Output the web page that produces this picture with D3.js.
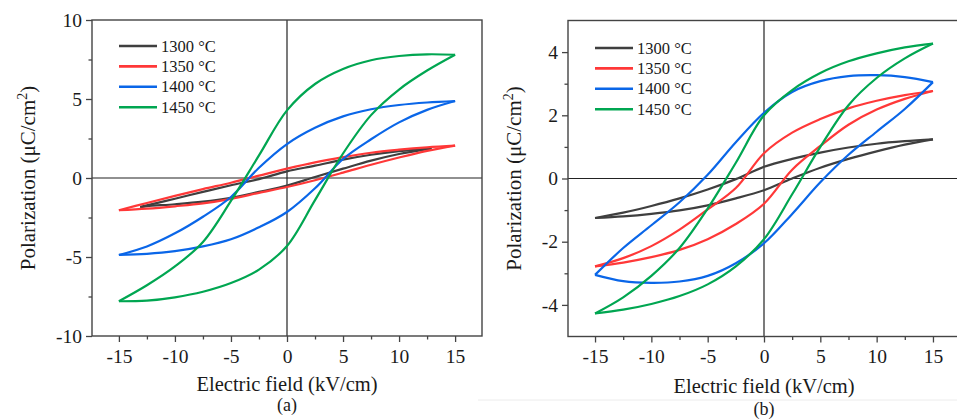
<!DOCTYPE html>
<html>
<head>
<meta charset="utf-8">
<script src="https://cdn.jsdelivr.net/npm/d3@7"></script>
<style>
  body { margin: 0; background: #fff; }
  svg text { font-family: "Liberation Serif", "DejaVu Serif", "Times New Roman", serif !important; fill: #1a1a1a; }
</style>
</head>
<body>
<script>
// sintering temperatures (legend)
var temps = ["1300 °C", "1350 °C", "1400 °C", "1450 °C"];
var colors = ["#3f3f3f", "#ff3838", "#0a66e8", "#00a651"];

// electric field grid (kV/cm)
var field = [-15, -12.5, -10, -7.5, -5, -2.5, 0, 2.5, 5, 7.5, 10, 12.5, 15];
var field1300a = [-13.1, -12.5, -10, -7.5, -5, -2.5, 0, 2.5, 5, 7.5, 10, 12.9];

// panel (a) polarization, upper (descending) and lower (ascending) branches
var upA1300  = [-1.84, -1.73, -1.31, -0.88, -0.46, -0.07, 0.42, 0.78, 1.16, 1.47, 1.70, 1.88];
var lowA1300 = [-1.84, -1.78, -1.66, -1.50, -1.25, -0.88, -0.48, 0.06, 0.59, 1.10, 1.52, 1.88];
var upA1350  = [-2.04, -1.58, -1.13, -0.70, -0.30, 0.15, 0.59, 0.99, 1.32, 1.60, 1.79, 1.94, 2.05];
var lowA1350 = [-2.04, -1.94, -1.79, -1.61, -1.32, -0.94, -0.57, -0.14, 0.34, 0.84, 1.30, 1.72, 2.05];
var upA1400  = [-4.87, -4.33, -3.50, -2.45, -1.20, 0.65, 2.15, 3.18, 3.90, 4.35, 4.62, 4.78, 4.87];
var lowA1400 = [-4.87, -4.80, -4.63, -4.33, -3.88, -3.12, -2.15, -0.65, 1.20, 2.45, 3.52, 4.31, 4.87];
var upA1450  = [-7.80, -6.79, -5.60, -4.05, -1.45, 1.43, 4.28, 5.95, 6.90, 7.45, 7.72, 7.83, 7.80];
var lowA1450 = [-7.80, -7.76, -7.55, -7.20, -6.65, -5.80, -4.30, -1.40, 1.55, 3.98, 5.60, 6.80, 7.80];

// panel (b)
var upB1300  = [-1.25, -1.08, -0.87, -0.63, -0.35, -0.02, 0.37, 0.62, 0.82, 0.98, 1.10, 1.18, 1.24];
var lowB1300 = [-1.25, -1.20, -1.12, -1.01, -0.85, -0.63, -0.37, 0.00, 0.34, 0.62, 0.86, 1.07, 1.24];
var upB1350  = [-2.78, -2.52, -2.14, -1.62, -0.98, -0.30, 0.80, 1.45, 1.88, 2.22, 2.46, 2.64, 2.77];
var lowB1350 = [-2.78, -2.66, -2.49, -2.26, -1.92, -1.44, -0.80, 0.28, 1.03, 1.70, 2.18, 2.52, 2.77];
var upB1400  = [-3.05, -2.20, -1.48, -0.75, 0.12, 1.15, 2.08, 2.74, 3.08, 3.24, 3.27, 3.21, 3.05];
var lowB1400 = [-3.05, -3.25, -3.30, -3.26, -3.08, -2.68, -2.05, -1.12, -0.12, 0.75, 1.48, 2.20, 3.05];
var upB1450  = [-4.27, -3.76, -3.08, -2.20, -0.95, 0.50, 2.00, 2.80, 3.34, 3.71, 3.96, 4.15, 4.27];
var lowB1450 = [-4.27, -4.15, -3.97, -3.72, -3.35, -2.78, -1.92, -0.50, 1.00, 2.32, 3.18, 3.80, 4.27];

var xMajor = [-15, -10, -5, 0, 5, 10, 15];
var xMinor = [-12.5, -7.5, -2.5, 2.5, 7.5, 12.5];

var svg = d3.select("body").append("svg")
    .attr("width", 957)
    .attr("height", 419);

function drawPanel(p) {
  var x = d3.scaleLinear().domain([-17.4, 17.4]).range([p.left, p.right]);
  var y = d3.scaleLinear().domain(p.yDomain).range([p.bottom, p.top]);
  var g = svg.append("g");

  // zero lines
  g.append("line").attr("x1", x(0)).attr("x2", x(0)).attr("y1", p.top).attr("y2", p.bottom)
    .attr("stroke", "#222").attr("stroke-width", 1.2);
  g.append("line").attr("x1", p.left).attr("x2", p.right).attr("y1", y(0)).attr("y2", y(0))
    .attr("stroke", "#222").attr("stroke-width", 1.2);

  // loops: each branch drawn from the data points
  var line = d3.line()
      .x(function(d) { return x(d[0]); })
      .y(function(d) { return y(d[1]); })
      .curve(d3.curveCatmullRom.alpha(0.5));

  p.series.forEach(function(s, i) {
    [s.up, s.low].forEach(function(branch) {
      g.append("path")
        .datum(s.field.map(function(e, j) { return [e, branch[j]]; }))
        .attr("d", line)
        .attr("fill", "none")
        .attr("stroke", colors[i])
        .attr("stroke-width", 2.2)
        .attr("stroke-linejoin", "round");
    });
  });

  // frame
  g.append("rect").attr("x", p.left).attr("y", p.top)
    .attr("width", p.right - p.left).attr("height", p.bottom - p.top)
    .attr("fill", "none").attr("stroke", "#444").attr("stroke-width", 1.4);

  // x axis
  var xa = g.append("g").attr("transform", "translate(0," + p.bottom + ")")
    .call(d3.axisBottom(x).tickValues(xMajor).tickSize(6).tickPadding(7)
      .tickFormat(function(d) { return String(d); }));
  var xm = g.append("g").attr("transform", "translate(0," + p.bottom + ")")
    .call(d3.axisBottom(x).tickValues(xMinor).tickSize(3.5).tickFormat(""));

  // y axis
  var ya = g.append("g").attr("transform", "translate(" + p.left + ",0)")
    .call(d3.axisLeft(y).tickValues(p.yMajor).tickSize(6).tickPadding(4)
      .tickFormat(function(d) { return String(d); }));
  var ym = g.append("g").attr("transform", "translate(" + p.left + ",0)")
    .call(d3.axisLeft(y).tickValues(p.yMinor).tickSize(3.5).tickFormat(""));

  [xa, xm, ya, ym].forEach(function(a) {
    a.attr("font-family", null);
    a.select(".domain").remove();
    a.selectAll(".tick line").attr("stroke", "#444").attr("stroke-width", 1.3);
    a.selectAll(".tick text").attr("font-size", "19.5px").attr("fill", "#1a1a1a");
  });

  // axis titles
  g.append("text")
    .attr("x", x(0)).attr("y", p.xTitleY)
    .attr("text-anchor", "middle").attr("font-size", "20.5px")
    .text("Electric field (kV/cm)");
  g.append("text")
    .attr("x", x(0)).attr("y", p.tagY)
    .attr("text-anchor", "middle").attr("font-size", "18px")
    .text(p.tag);

  var yt = g.append("text")
    .attr("transform", "translate(" + p.yTitleX + "," + ((p.top + p.bottom) / 2) + ") rotate(-90)")
    .attr("text-anchor", "middle").attr("font-size", "21px");
  yt.append("tspan").text("Polarization (μC/cm");
  yt.append("tspan").attr("font-size", "14px").attr("dy", "-8").text("2");
  yt.append("tspan").attr("dy", "8").text(")");

  // legend
  var lg = g.append("g").attr("transform", "translate(" + p.legX + "," + p.legY + ")");
  temps.forEach(function(t, i) {
    var row = lg.append("g").attr("transform", "translate(0," + (i * 20.4) + ")");
    row.append("line").attr("x1", 0).attr("x2", 38).attr("y1", 0).attr("y2", 0)
      .attr("stroke", colors[i]).attr("stroke-width", 2.6);
    row.append("text").attr("x", 42).attr("y", 5.5).attr("font-size", "16.5px").text(t);
  });
}

drawPanel({
  left: 92, right: 482, top: 20, bottom: 336,
  yDomain: [-10, 10], yMajor: [-10, -5, 0, 5, 10], yMinor: [-7.5, -2.5, 2.5, 7.5],
  xTitleY: 391, tag: "(a)", tagY: 411, yTitleX: 35,
  legX: 119, legY: 46,
  series: [
    { field: field1300a, up: upA1300, low: lowA1300 },
    { field: field, up: upA1350, low: lowA1350 },
    { field: field, up: upA1400, low: lowA1400 },
    { field: field, up: upA1450, low: lowA1450 }
  ]
});

drawPanel({
  left: 568, right: 960, top: 20.5, bottom: 336.5,
  yDomain: [-5, 5], yMajor: [-4, -2, 0, 2, 4], yMinor: [-3, -1, 1, 3],
  xTitleY: 393, tag: "(b)", tagY: 415, yTitleX: 521,
  legX: 595, legY: 48,
  series: [
    { field: field, up: upB1300, low: lowB1300 },
    { field: field, up: upB1350, low: lowB1350 },
    { field: field, up: upB1400, low: lowB1400 },
    { field: field, up: upB1450, low: lowB1450 }
  ]
});

// faint page edge under panel (b)
svg.append("line").attr("x1", 478).attr("x2", 957).attr("y1", 400).attr("y2", 400)
  .attr("stroke", "#ececec").attr("stroke-width", 1);
</script>
</body>
</html>
